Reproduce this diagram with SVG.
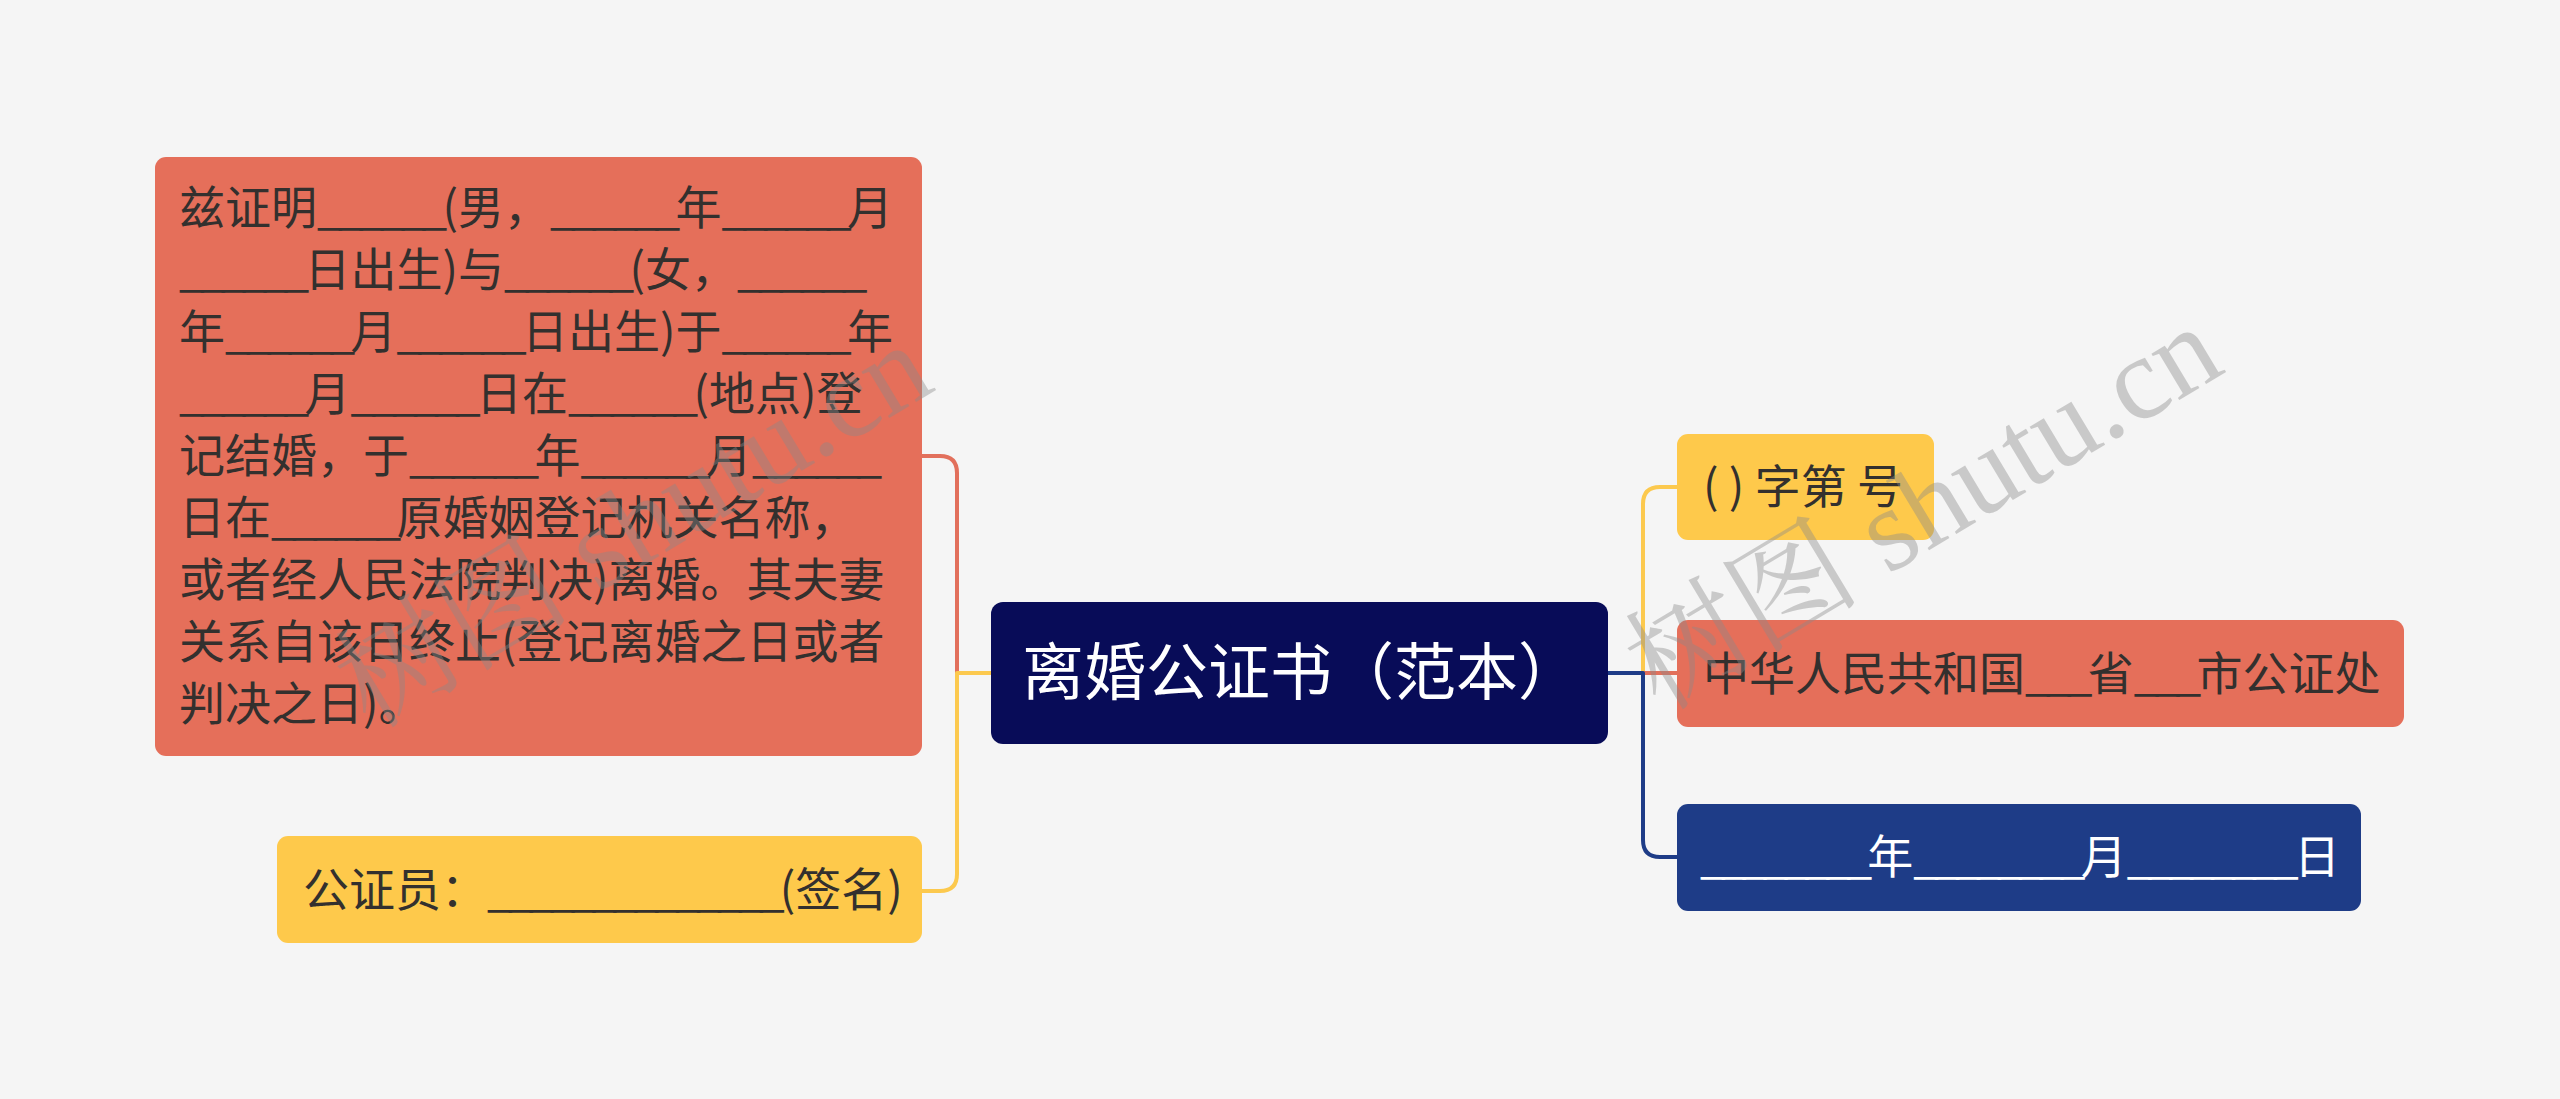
<svg xmlns="http://www.w3.org/2000/svg" width="2560" height="1099" viewBox="0 0 2560 1099">
<style>
text{font-family:"Noto Sans CJK SC","Noto Sans",sans-serif;}
.t{font-size:46px;fill:#33302e;}
.w{fill:#ffffff;}
.u{letter-spacing:-4.8px;}
.c{fill:none;stroke-width:4;stroke-linecap:round;stroke-linejoin:round;}
.wm{font-family:"Liberation Serif","Noto Serif CJK SC","Noto Sans CJK SC",serif;font-size:118px;fill:#8a8a8a;opacity:0.4;}
</style>
<rect x="0" y="0" width="2560" height="1099" fill="#f5f5f5"/>
<g id="connectors">
<path class="c" stroke="#e2705c" d="M922,456 H940 Q957,456 957,473 V673"/>
<path class="c" stroke="#fcc94e" d="M991,673 H957 V874 Q957,891 940,891 H922"/>
<path class="c" stroke="#fcc94e" d="M1643,673 V504 Q1643,487 1660,487 H1677"/>
<path class="c" stroke="#e2705c" d="M1643,673 H1677"/>
<path class="c" stroke="#1e3c87" d="M1608,673 H1643 V840 Q1643,857 1660,857 H1677"/>
</g>
<g id="node-left-main">
<rect x="155" y="157" width="767" height="599" rx="11" fill="#e56f5a"/>
<text class="t">
<tspan x="179" y="224">兹证明<tspan class="u">______</tspan>(男，<tspan class="u">______</tspan>年<tspan class="u">______</tspan>月</tspan>
<tspan x="179" y="286"><tspan class="u">______</tspan>日出生)与<tspan class="u">______</tspan>(女，<tspan class="u">______</tspan></tspan>
<tspan x="179" y="348">年<tspan class="u">______</tspan>月<tspan class="u">______</tspan>日出生)于<tspan class="u">______</tspan>年</tspan>
<tspan x="179" y="410"><tspan class="u">______</tspan>月<tspan class="u">______</tspan>日在<tspan class="u">______</tspan>(地点)登</tspan>
<tspan x="179" y="472">记结婚，于<tspan class="u">______</tspan>年<tspan class="u">______</tspan>月<tspan class="u">______</tspan></tspan>
<tspan x="179" y="534">日在<tspan class="u">______</tspan>原婚姻登记机关名称，</tspan>
<tspan x="179" y="596">或者经人民法院判决)离婚。其夫妻</tspan>
<tspan x="179" y="658">关系自该日终止(登记离婚之日或者</tspan>
<tspan x="179" y="720">判决之日)。</tspan>
</text>
</g>
<g id="node-left-sign">
<rect x="277" y="836" width="645" height="107" rx="11" fill="#fec94b"/>
<text class="t" x="303" y="906">公证员：<tspan class="u">______________</tspan>(签名)</text>
</g>
<g id="node-center">
<rect x="991" y="602" width="617" height="142" rx="12" fill="#080c58"/>
<text class="w" x="1022" y="695" font-size="62">离婚公证书（范本）</text>
</g>
<g id="node-right-number">
<rect x="1677" y="434" width="257" height="106" rx="11" fill="#fec94b"/>
<text class="t" x="1703" y="503">( ) 字第 号</text>
</g>
<g id="node-right-office">
<rect x="1677" y="620" width="727" height="107" rx="11" fill="#e56f5a"/>
<text class="t" x="1703" y="690">中华人民共和国<tspan class="u">___</tspan>省<tspan class="u">___</tspan>市公证处</text>
</g>
<g id="node-right-date">
<rect x="1677" y="804" width="684" height="107" rx="11" fill="#1e3c87"/>
<text class="t w" x="1700" y="873"><tspan class="u">________</tspan>年<tspan class="u">________</tspan>月<tspan class="u">________</tspan>日</text>
</g>
<g id="watermarks">
<text class="wm" x="370" y="730" transform="rotate(-31 370 730)">树图 shutu.cn</text>
<text class="wm" x="1660" y="712" transform="rotate(-31 1660 712)">树图 shutu.cn</text>
</g>
</svg>
